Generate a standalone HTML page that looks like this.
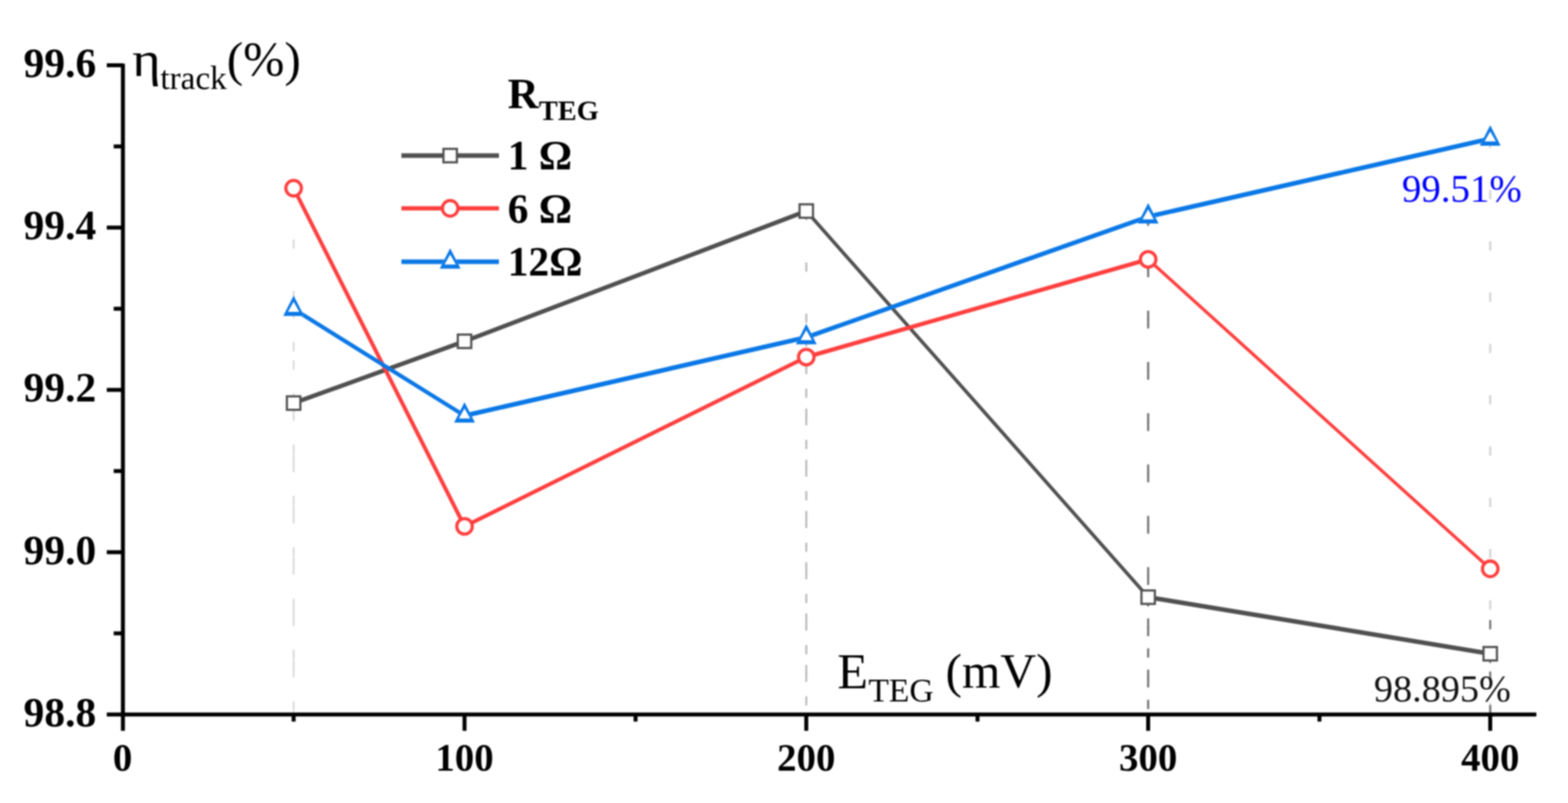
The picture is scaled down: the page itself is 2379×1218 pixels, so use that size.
<!DOCTYPE html>
<html>
<head>
<meta charset="utf-8">
<style>
html,body{margin:0;padding:0;background:#fff;width:2379px;height:1218px;overflow:hidden}
svg{display:block;filter:blur(0.8px)}
text{font-family:"Liberation Serif","Times New Roman",serif}
.b{font-weight:bold}
</style>
</head>
<body>
<svg width="2379" height="1218" viewBox="0 0 2379 1218">
<rect width="2379" height="1218" fill="#fff"/>
<g fill="none" stroke-width="3">
<line x1="445.5" y1="468.7" x2="445.5" y2="1083.7" stroke="#dcdcdc" stroke-dasharray="14 63.8"/>
<line x1="1223.3" y1="511.7" x2="1223.3" y2="1083.7" stroke="#bababa" stroke-dasharray="14 63.8"/>
<line x1="1742.0" y1="328.6" x2="1742.0" y2="1083.7" stroke="#6a6a6a" stroke-dasharray="14 63.8"/>
<line x1="2261.0" y1="210.4" x2="2261.0" y2="1083.7" stroke="#d2d2d2" stroke-dasharray="14 63.8"/>
<line x1="445.5" y1="611.4" x2="445.5" y2="1083.7" stroke="#dcdcdc" stroke-dasharray="14 63.8"/>
<line x1="1223.3" y1="320.1" x2="1223.3" y2="1083.7" stroke="#bababa" stroke-dasharray="14 63.8"/>
<line x1="1742.0" y1="905.8" x2="1742.0" y2="1083.7" stroke="#6a6a6a" stroke-dasharray="14 63.8"/>
<line x1="2261.0" y1="991.6" x2="2261.0" y2="1083.7" stroke="#6e6e6e" stroke-dasharray="14 63.8"/>
<line x1="445.5" y1="285.5" x2="445.5" y2="1083.7" stroke="#dcdcdc" stroke-dasharray="14 63.8"/>
<line x1="1223.3" y1="541.6" x2="1223.3" y2="1083.7" stroke="#bababa" stroke-dasharray="14 63.8"/>
<line x1="1742.0" y1="393.4" x2="1742.0" y2="1083.7" stroke="#6a6a6a" stroke-dasharray="14 63.8"/>
<line x1="2261.0" y1="862.8" x2="2261.0" y2="1083.7" stroke="#6e6e6e" stroke-dasharray="14 63.8"/>
</g>
<line x1="445.5" y1="611.4" x2="704.8" y2="517.7" stroke="#505050" stroke-width="6.58" stroke-linecap="round"/>
<line x1="704.8" y1="517.7" x2="1223.3" y2="320.1" stroke="#505050" stroke-width="6.54" stroke-linecap="round"/>
<line x1="1223.3" y1="320.1" x2="1742.0" y2="905.8" stroke="#505050" stroke-width="5.24" stroke-linecap="round"/>
<line x1="1742.0" y1="905.8" x2="2261.0" y2="991.6" stroke="#505050" stroke-width="6.91" stroke-linecap="round"/>
<rect x="435.3" y="601.2" width="20.4" height="20.4" fill="#fff" stroke="#505050" stroke-width="3.3"/>
<rect x="694.6" y="507.5" width="20.4" height="20.4" fill="#fff" stroke="#505050" stroke-width="3.3"/>
<rect x="1213.1" y="309.9" width="20.4" height="20.4" fill="#fff" stroke="#505050" stroke-width="3.3"/>
<rect x="1731.8" y="895.6" width="20.4" height="20.4" fill="#fff" stroke="#505050" stroke-width="3.3"/>
<rect x="2250.8" y="981.4" width="20.4" height="20.4" fill="#fff" stroke="#505050" stroke-width="3.3"/>
<line x1="445.5" y1="285.5" x2="704.8" y2="798.4" stroke="#ff3f3f" stroke-width="5.89" stroke-linecap="round"/>
<line x1="704.8" y1="798.4" x2="1223.3" y2="541.6" stroke="#ff3f3f" stroke-width="5.91" stroke-linecap="round"/>
<line x1="1223.3" y1="541.6" x2="1742.0" y2="393.4" stroke="#ff3f3f" stroke-width="6.35" stroke-linecap="round"/>
<line x1="1742.0" y1="393.4" x2="2261.0" y2="862.8" stroke="#ff3f3f" stroke-width="4.89" stroke-linecap="round"/>
<circle cx="445.5" cy="285.5" r="11.8" fill="#fff" stroke="#ff3f3f" stroke-width="4.8"/>
<circle cx="704.8" cy="798.4" r="11.8" fill="#fff" stroke="#ff3f3f" stroke-width="4.8"/>
<circle cx="1223.3" cy="541.6" r="11.8" fill="#fff" stroke="#ff3f3f" stroke-width="4.8"/>
<circle cx="1742.0" cy="393.4" r="11.8" fill="#fff" stroke="#ff3f3f" stroke-width="4.8"/>
<circle cx="2261.0" cy="862.8" r="11.8" fill="#fff" stroke="#ff3f3f" stroke-width="4.8"/>
<line x1="445.5" y1="468.7" x2="704.8" y2="630.5" stroke="#0a78e6" stroke-width="6.11" stroke-linecap="round"/>
<line x1="704.8" y1="630.5" x2="1223.3" y2="511.7" stroke="#0a78e6" stroke-width="7.02" stroke-linecap="round"/>
<line x1="1223.3" y1="511.7" x2="1742.0" y2="328.6" stroke="#0a78e6" stroke-width="6.79" stroke-linecap="round"/>
<line x1="1742.0" y1="328.6" x2="2261.0" y2="210.4" stroke="#0a78e6" stroke-width="7.02" stroke-linecap="round"/>
<path d="M445.5 448.2L461.3 479.2L429.7 479.2Z" fill="#fff"/><path d="M445.5 448.2L461.3 479.2L429.7 479.2ZM445.5 457.7L454.1 472.9L436.9 472.9Z" fill="#0a78e6" fill-rule="evenodd"/>
<path d="M704.8 610.0L720.6 641.0L689.0 641.0Z" fill="#fff"/><path d="M704.8 610.0L720.6 641.0L689.0 641.0ZM704.8 619.5L713.4 634.7L696.2 634.7Z" fill="#0a78e6" fill-rule="evenodd"/>
<path d="M1223.3 491.2L1239.1 522.2L1207.5 522.2Z" fill="#fff"/><path d="M1223.3 491.2L1239.1 522.2L1207.5 522.2ZM1223.3 500.7L1231.9 515.9L1214.7 515.9Z" fill="#0a78e6" fill-rule="evenodd"/>
<path d="M1742.0 308.1L1757.8 339.1L1726.2 339.1Z" fill="#fff"/><path d="M1742.0 308.1L1757.8 339.1L1726.2 339.1ZM1742.0 317.6L1750.6 332.8L1733.4 332.8Z" fill="#0a78e6" fill-rule="evenodd"/>
<path d="M2261.0 189.9L2276.8 220.9L2245.2 220.9Z" fill="#fff"/><path d="M2261.0 189.9L2276.8 220.9L2245.2 220.9ZM2261.0 199.4L2269.6 214.6L2252.4 214.6Z" fill="#0a78e6" fill-rule="evenodd"/>
<g stroke="#000" fill="none" stroke-width="6">
<line x1="186.5" y1="96.5" x2="186.5" y2="1108.5"/>
<line x1="162" y1="1083.7" x2="2331" y2="1083.7"/>
<line x1="162" y1="99.0" x2="186.5" y2="99.0"/>
<line x1="162" y1="345.2" x2="186.5" y2="345.2"/>
<line x1="162" y1="591.4" x2="186.5" y2="591.4"/>
<line x1="162" y1="837.6" x2="186.5" y2="837.6"/>
<line x1="172.5" y1="222.1" x2="186.5" y2="222.1"/>
<line x1="172.5" y1="468.3" x2="186.5" y2="468.3"/>
<line x1="172.5" y1="714.5" x2="186.5" y2="714.5"/>
<line x1="172.5" y1="960.7" x2="186.5" y2="960.7"/>
<line x1="704.8" y1="1083.7" x2="704.8" y2="1108.5"/>
<line x1="1223.3" y1="1083.7" x2="1223.3" y2="1108.5"/>
<line x1="1742.0" y1="1083.7" x2="1742.0" y2="1108.5"/>
<line x1="2261.0" y1="1083.7" x2="2261.0" y2="1108.5"/>
<line x1="445.5" y1="1083.7" x2="445.5" y2="1094.5"/>
<line x1="964.3" y1="1083.7" x2="964.3" y2="1094.5"/>
<line x1="1483.1" y1="1083.7" x2="1483.1" y2="1094.5"/>
<line x1="2001.9" y1="1083.7" x2="2001.9" y2="1094.5"/>
</g>
<g class="b" font-size="63" text-anchor="end" fill="#000">
<text x="146" y="116.5">99.6</text>
<text x="146" y="362.7">99.4</text>
<text x="146" y="608.9">99.2</text>
<text x="146" y="855.7">99.0</text>
<text x="146" y="1101.5">98.8</text>
</g>
<g class="b" font-size="59" text-anchor="middle" fill="#000">
<text x="186" y="1168.5">0</text>
<text x="704.8" y="1168.5">100</text>
<text x="1223.3" y="1168.5">200</text>
<text x="1742" y="1168.5">300</text>
<text x="2261" y="1168.5">400</text>
</g>
<text transform="translate(200.5,115) scale(1.12,1)" font-size="74" fill="#000">η</text>
<text x="243.2" y="134.5" font-size="50.5" fill="#000">track</text>
<text x="344.1" y="114.5" font-size="75" fill="#000">(%)</text>
<text x="1270.6" y="1043.8" font-size="76" fill="#000">E</text>
<text x="1317.4" y="1063.8" font-size="51" fill="#000">TEG</text>
<text x="1434.5" y="1042.8" font-size="75" fill="#000">(mV)</text>
<text x="2127.1" y="305.5" font-size="59" fill="#0000ff">99.51%</text>
<text x="2084.6" y="1064" font-size="58" fill="#111">98.895%</text>
<line x1="609" y1="236" x2="757" y2="236" stroke="#505050" stroke-width="6.9"/>
<line x1="609" y1="316" x2="757" y2="316" stroke="#ff3f3f" stroke-width="6.5"/>
<line x1="609" y1="397" x2="757" y2="397" stroke="#0a78e6" stroke-width="7.2"/>
<rect x="672.8" y="225.8" width="20.4" height="20.4" fill="#fff" stroke="#505050" stroke-width="3.3"/>
<circle cx="683.0" cy="316.0" r="11.8" fill="#fff" stroke="#ff3f3f" stroke-width="4.8"/>
<path d="M683.0 376.5L698.8 407.5L667.2 407.5Z" fill="#fff"/><path d="M683.0 376.5L698.8 407.5L667.2 407.5ZM683.0 386.0L691.6 401.2L674.4 401.2Z" fill="#0a78e6" fill-rule="evenodd"/>
<text class="b" x="770.2" y="163.8" font-size="65">R</text>
<text class="b" x="817.6" y="182" font-size="43">TEG</text>
<text class="b" x="770.2" y="256.5" font-size="63">1 Ω</text>
<text class="b" x="770.2" y="337.5" font-size="63">6 Ω</text>
<text class="b" x="770.2" y="418" font-size="63">12Ω</text>
</svg>
</body>
</html>
